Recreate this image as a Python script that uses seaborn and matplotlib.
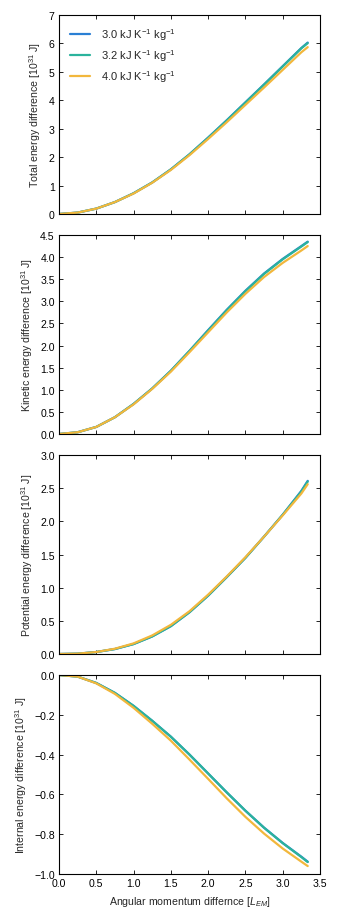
import numpy as np
import pandas as pd
import matplotlib
matplotlib.use("Agg")
import matplotlib.pyplot as plt
import matplotlib.ticker as mticker
import seaborn as sns

# angular momentum difference [L_EM] and the three heat capacities
x_vals = [0.0, 0.25, 0.5, 0.75, 1.0, 1.25, 1.5, 1.75, 2.0, 2.25, 2.5, 2.75, 3.0, 3.25, 3.335]
series_labels = ["3.0 kJ K$^{-1}$ kg$^{-1}$",
                 "3.2 kJ K$^{-1}$ kg$^{-1}$",
                 "4.0 kJ K$^{-1}$ kg$^{-1}$"]
colors = ["#2a7fd4", "#2bb39c", "#f2b73c"]

# energy differences [10^31 J]
total_30 = [0, 0.05, 0.19, 0.42, 0.73, 1.11, 1.57, 2.10, 2.69, 3.30, 3.93, 4.56, 5.20, 5.84, 6.03]
total_32 = [0, 0.05, 0.19, 0.42, 0.73, 1.11, 1.57, 2.10, 2.68, 3.29, 3.92, 4.55, 5.19, 5.83, 6.01]
total_40 = [0, 0.05, 0.19, 0.42, 0.72, 1.10, 1.55, 2.07, 2.64, 3.23, 3.84, 4.45, 5.07, 5.69, 5.87]

kinetic_30 = [0, 0.04, 0.16, 0.38, 0.68, 1.03, 1.43, 1.88, 2.35, 2.81, 3.24, 3.63, 3.96, 4.25, 4.35]
kinetic_32 = [0, 0.04, 0.16, 0.38, 0.68, 1.03, 1.43, 1.88, 2.34, 2.80, 3.23, 3.62, 3.95, 4.24, 4.34]
kinetic_40 = [0, 0.04, 0.16, 0.38, 0.67, 1.02, 1.41, 1.85, 2.30, 2.75, 3.17, 3.55, 3.87, 4.15, 4.25]

potential_30 = [0, 0.005, 0.03, 0.075, 0.15, 0.265, 0.42, 0.63, 0.88, 1.16, 1.45, 1.77, 2.10, 2.46, 2.61]
potential_32 = [0, 0.005, 0.03, 0.075, 0.15, 0.265, 0.42, 0.63, 0.88, 1.16, 1.45, 1.77, 2.10, 2.45, 2.60]
potential_40 = [0, 0.005, 0.03, 0.08, 0.16, 0.28, 0.44, 0.645, 0.895, 1.17, 1.46, 1.77, 2.09, 2.42, 2.56]

internal_30 = [0, -0.008, -0.04, -0.09, -0.155, -0.23, -0.31, -0.40, -0.495, -0.59, -0.682, -0.767, -0.844, -0.913, -0.938]
internal_32 = [0, -0.008, -0.04, -0.09, -0.155, -0.23, -0.31, -0.40, -0.495, -0.59, -0.682, -0.768, -0.845, -0.915, -0.940]
internal_40 = [0, -0.008, -0.042, -0.095, -0.165, -0.245, -0.33, -0.425, -0.522, -0.62, -0.713, -0.797, -0.872, -0.938, -0.960]

panels = [
    ("Total energy difference [10$^{31}$ J]", [total_30, total_32, total_40], (0, 7), 1.0),
    ("Kinetic energy difference [10$^{31}$ J]", [kinetic_30, kinetic_32, kinetic_40], (0, 4.5), 0.5),
    ("Potential energy difference [10$^{31}$ J]", [potential_30, potential_32, potential_40], (0, 3.0), 0.5),
    ("Internal energy difference [10$^{31}$ J]", [internal_30, internal_32, internal_40], (-1.0, 0.0), 0.2),
]

sns.set_style("ticks", {"xtick.direction": "in", "ytick.direction": "in",
                        "axes.edgecolor": "black"})
plt.rcParams["font.family"] = ["Liberation Sans", "DejaVu Sans"]
plt.rcParams["mathtext.fontset"] = "custom"
plt.rcParams["mathtext.rm"] = "Liberation Sans"
plt.rcParams["mathtext.it"] = "Liberation Sans:italic"
plt.rcParams["font.size"] = 7.6

fig, axes = plt.subplots(4, 1, figsize=(3.39, 9.2), dpi=100, sharex=True)
fig.subplots_adjust(left=0.174, right=0.944, top=0.9826, bottom=0.0489, hspace=0.1055)


def minus_fmt(v, pos):
    s = "%.1f" % v
    if abs(v) < 1e-9:
        s = "0.0"
    return s.replace("-", "\u2212")


for ax, (ylabel, curves, ylim, step) in zip(axes, panels):
    frames = []
    for label, vals in zip(series_labels, curves):
        frames.append(pd.DataFrame({"x": x_vals, "y": vals, "series": label}))
    df = pd.concat(frames)
    sns.lineplot(data=df, x="x", y="y", hue="series", palette=colors,
                 linewidth=1.6, ax=ax, legend=(ax is axes[0]))
    ax.set_xlim(0, 3.5)
    ax.set_ylim(*ylim)
    ax.set_yticks(np.arange(ylim[0], ylim[1] + step / 2, step))
    ax.set_xticks(np.arange(0, 3.51, 0.5))
    ax.set_ylabel(ylabel, fontsize=7.6)
    ax.set_xlabel("")
    ax.tick_params(top=True, right=True, length=3, width=0.6, labelsize=7.6,
                   colors="black", pad=3)
    ax.yaxis.set_major_formatter(mticker.FuncFormatter(minus_fmt))
    for s in ax.spines.values():
        s.set_linewidth(0.8)

axes[0].yaxis.set_major_formatter(mticker.FormatStrFormatter("%d"))
axes[3].xaxis.set_major_formatter(mticker.FormatStrFormatter("%.1f"))
axes[3].set_xlabel("Angular momentum differnce [$L_{EM}$]", fontsize=7.6)

axes[0].legend(loc="upper left", frameon=False, fontsize=8, handlelength=1.8,
               handletextpad=1.0, labelspacing=0.45, borderaxespad=0.6)

plt.savefig("out.png", dpi=100)
plt.close()
